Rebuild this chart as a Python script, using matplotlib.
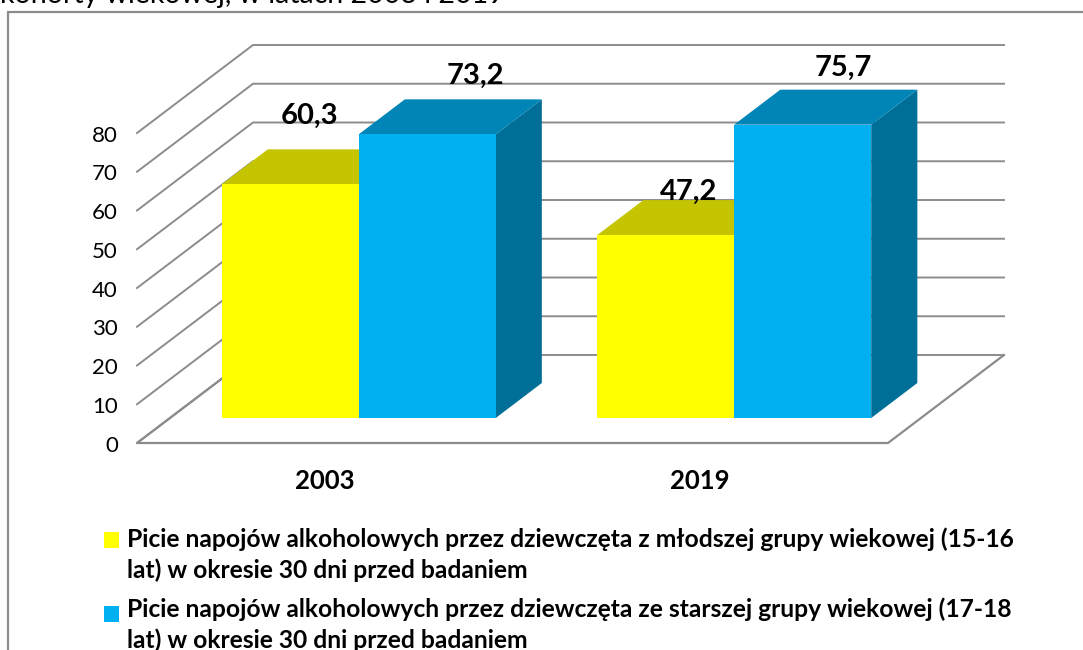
import matplotlib
matplotlib.use("Agg")
import matplotlib.pyplot as plt
from matplotlib.patches import Polygon, Rectangle

plt.rcParams['font.family'] = ['Lato', 'DejaVu Sans']

# data
years = ['2003', '2019']
young = [60.3, 47.2]
old = [73.2, 75.7]
young_labels = ['60,3', '47,2']
old_labels = ['73,2', '75,7']
ticks = [0, 10, 20, 30, 40, 50, 60, 70, 80]
legend_young = 'Picie napojów alkoholowych przez dziewczęta z młodszej grupy wiekowej (15-16\nlat) w okresie 30 dni przed badaniem'
legend_old = 'Picie napojów alkoholowych przez dziewczęta ze starszej grupy wiekowej (17-18\nlat) w okresie 30 dni przed badaniem'
clipped_title = 'kohorty wiekowej, w latach 2003 i 2019'

# geometry (px scale of the figure)
W, H = 1083, 650
PX_X = 375.5          # px per category
PX_Y = 3.875          # px per value unit
X0, Y0 = 324.75, 443  # px of category 0, value 0 on front plane
DX = 116 / PX_X       # full depth shift, in category units
DY = 88 / PX_Y        # full depth shift, in value units
BAR_W = 137 / PX_X
BAR_SHIFT = 1 / PX_X
D_FRONT, D_BACK = 25 / 88, 60 / 88
GRID = '#8c8c8c'

fig = plt.figure(figsize=(W / 100, H / 100), dpi=100)
ax = fig.add_axes([0, 0, 1, 1])
ax.set_xlim(-X0 / PX_X, (W - X0) / PX_X)
ax.set_ylim((Y0 - H) / PX_Y, Y0 / PX_Y)
ax.axis('off')


def px(x, y):
    return (x - X0) / PX_X, (Y0 - y) / PX_Y


def proj(c, v, d):
    return c + d * DX, v + d * DY


# outer frame (open at the bottom, running off the right edge)
xs, ys = zip(px(7.5, H), px(7.5, 11.5), px(W, 11.5))
ax.plot(xs, ys, color='#8c8c8c', lw=1.6, solid_joinstyle='miter')

# walls and floor
left, right = -0.5, 1.5
for t in ticks:
    pts = [proj(left, t, 0), proj(left, t, 1), proj(right, t, 1)]
    ax.plot(*zip(*pts), color=GRID, lw=1.4, solid_joinstyle='miter', zorder=1)
    ax.text(px(118, 0)[0], t - 0.7, str(t), ha='right', va='center', fontsize=16, color='black')
floor = [proj(left, 0, 1), proj(left, 0, 0), proj(right, 0, 0), proj(right, 0, 1)]
ax.plot(*zip(*floor), color=GRID, lw=1.6, solid_joinstyle='miter', zorder=1)


def bar(c0, c1, v, front, top, side, z):
    ax.add_patch(Polygon([proj(c1, 0, D_FRONT), proj(c1, 0, D_BACK), proj(c1, v, D_BACK), proj(c1, v, D_FRONT)],
                         fc=side, ec='none', zorder=z))
    ax.add_patch(Polygon([proj(c0, v, D_FRONT), proj(c1, v, D_FRONT), proj(c1, v, D_BACK), proj(c0, v, D_BACK)],
                         fc=top, ec='none', zorder=z))
    ax.add_patch(Polygon([proj(c0, 0, D_FRONT), proj(c1, 0, D_FRONT), proj(c1, v, D_FRONT), proj(c0, v, D_FRONT)],
                         fc=front, ec='none', zorder=z))


for i in range(len(years)):
    c = i + BAR_SHIFT
    bar(c - BAR_W, c, young[i], '#FFFF00', '#C4C400', '#9C9C00', 2)
    bar(c, c + BAR_W, old[i], '#00B0F0', '#0085B6', '#006F98', 3)
    ax.text(i, px(0, 481)[1], years[i], ha='center', va='center', fontsize=18.5, fontweight='bold')

# data labels: offsets in value units above the front top edge, and in categories
young_off = [(-0.04, 24.0), (-0.03, 17.6)]
old_off = [(0.40, 21.6), (0.38, 21.2)]
for i in range(len(years)):
    dx, dy = young_off[i]
    ax.text(i + dx, young[i] + dy, young_labels[i], ha='center', va='center', fontsize=21, fontweight='bold', zorder=5)
    dx, dy = old_off[i]
    ax.text(i + dx, old[i] + dy, old_labels[i], ha='center', va='center', fontsize=21, fontweight='bold', zorder=5)

# legend
for label, color, top, text_top in [(legend_young, '#FFFF00', 532, 527), (legend_old, '#00B0F0', 606, 597)]:
    x0, y0 = px(104, top + 16)
    x1, y1 = px(119, top)
    ax.add_patch(Rectangle((x0, y0), x1 - x0, y1 - y0, fc=color, ec='none'))
    tx, ty = px(127, text_top)
    ax.text(tx, ty, label, ha='left', va='top', fontsize=17.72, fontweight='bold', linespacing=1.42)

# cropped caption from the surrounding page
tx, ty = px(505, 3)
ax.text(tx, ty, clipped_title, ha='right', va='baseline', fontsize=20.5, color='black')

fig.savefig('out.png', dpi=100)
